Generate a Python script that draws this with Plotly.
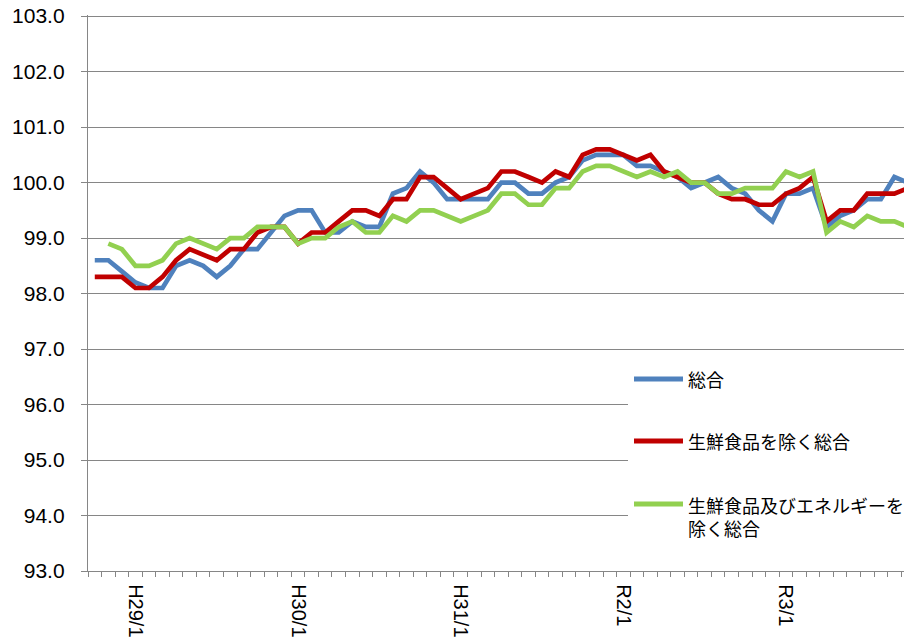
import plotly.graph_objects as go

# Months from 2016-10 (H28/10) to 2021-10 (R3/10)
months = []
for yy in range(2016, 2022):
    for mm in range(1, 13):
        if (yy == 2016 and mm < 10) or (yy == 2021 and mm > 10):
            continue
        months.append(f"{yy}-{mm:02d}")

tick_months = ["2017-01", "2018-01", "2019-01", "2020-01", "2021-01"]
tick_labels = ["H29/1", "H30/1", "H31/1", "R2/1", "R3/1"]

# 総合
sogo = [98.6, 98.6, 98.4, 98.2, 98.1, 98.1, 98.5, 98.6, 98.5, 98.3,
        98.5, 98.8, 98.8, 99.1, 99.4, 99.5, 99.5, 99.1, 99.1, 99.3,
        99.2, 99.2, 99.8, 99.9, 100.2, 100.0, 99.7, 99.7, 99.7, 99.7,
        100.0, 100.0, 99.8, 99.8, 100.0, 100.1, 100.4, 100.5, 100.5, 100.5,
        100.3, 100.3, 100.2, 100.1, 99.9, 100.0, 100.1, 99.9, 99.8, 99.5,
        99.3, 99.8, 99.8, 99.9, 99.2, 99.4, 99.5, 99.7, 99.7, 100.1, 100.0]

# 生鮮食品を除く総合
core = [98.3, 98.3, 98.3, 98.1, 98.1, 98.3, 98.6, 98.8, 98.7, 98.6,
        98.8, 98.8, 99.1, 99.2, 99.2, 98.9, 99.1, 99.1, 99.3, 99.5,
        99.5, 99.4, 99.7, 99.7, 100.1, 100.1, 99.9, 99.7, 99.8, 99.9,
        100.2, 100.2, 100.1, 100.0, 100.2, 100.1, 100.5, 100.6, 100.6, 100.5,
        100.4, 100.5, 100.2, 100.1, 100.0, 100.0, 99.8, 99.7, 99.7, 99.6,
        99.6, 99.8, 99.9, 100.1, 99.3, 99.5, 99.5, 99.8, 99.8, 99.8, 99.9]

# 生鮮食品及びエネルギーを除く総合
core_core = [None, 98.9, 98.8, 98.5, 98.5, 98.6, 98.9, 99.0, 98.9, 98.8,
             99.0, 99.0, 99.2, 99.2, 99.2, 98.9, 99.0, 99.0, 99.2, 99.3,
             99.1, 99.1, 99.4, 99.3, 99.5, 99.5, 99.4, 99.3, 99.4, 99.5,
             99.8, 99.8, 99.6, 99.6, 99.9, 99.9, 100.2, 100.3, 100.3, 100.2,
             100.1, 100.2, 100.1, 100.2, 100.0, 100.0, 99.8, 99.8, 99.9, 99.9,
             99.9, 100.2, 100.1, 100.2, 99.1, 99.3, 99.2, 99.4, 99.3, 99.3, 99.2]

series_names = ["総合", "生鮮食品を除く総合", "生鮮食品及びエネルギーを<br>除く総合"]
series_colors = ["#4F81BD", "#C00000", "#92D050"]
series_values = [sogo, core, core_core]

xpos = list(range(len(months)))
tickvals = [months.index(m) for m in tick_months]

fig = go.Figure()
for name, color, vals in zip(series_names, series_colors, series_values):
    fig.add_trace(go.Scatter(x=xpos, y=vals, mode="lines", name=name,
                             line=dict(color=color, width=4.7),
                             connectgaps=False, showlegend=False))

GRID = "#868686"
OFF = 8  # page offset of the figure inside the browser window
W, H = 912 - OFF, 638 - OFF
L, R, T, B = 88 - OFF, 0, 16 - OFF - 1, 638 - 571
pw, ph = W - L - R, H - T - B
YMAX = 103.02


def px(xp):  # page pixel -> paper x
    return (xp - OFF - L) / pw


def py(yp):  # page pixel -> paper y
    return (H - B - (yp - OFF)) / ph


shapes = [dict(type="rect", xref="paper", yref="paper",
               x0=px(628), x1=1.0, y0=py(548), y1=py(360),
               fillcolor="white", line=dict(width=0), layer="above")]
annotations = []
text_y = [379, 441, 516]
line_y = [379, 441, 504]
for name, color, ly, ty in zip(series_names, series_colors, line_y, text_y):
    shapes.append(dict(type="line", xref="paper", yref="paper",
                       x0=px(634), x1=px(683), y0=py(ly), y1=py(ly),
                       line=dict(color=color, width=5), layer="above"))
    annotations.append(dict(xref="paper", yref="paper", x=px(686), y=py(ty),
                            xanchor="left", yanchor="middle", align="left",
                            text=name, showarrow=False,
                            font=dict(family="Noto Sans CJK JP", size=18, color="black")))

fig.update_layout(
    width=W, height=H,
    margin=dict(l=L, r=R, t=T, b=B, pad=0, autoexpand=False),
    paper_bgcolor="white", plot_bgcolor="white",
    shapes=shapes, annotations=annotations,
    xaxis=dict(range=[-0.5, 60.3], tickmode="array", tickvals=tickvals,
               ticktext=tick_labels, tickangle=90, ticks="", showgrid=False,
               showline=True, linecolor=GRID, linewidth=1.3, zeroline=False,
               ticklabelstandoff=8, automargin=False,
               tickfont=dict(family="Liberation Sans", size=20, color="black"),
               minor=dict(tickmode="linear", tick0=-0.5, dtick=1, ticks="outside",
                          ticklen=5, tickcolor=GRID, tickwidth=1, showgrid=False)),
    yaxis=dict(range=[93, YMAX], tickmode="array",
               tickvals=[93, 94, 95, 96, 97, 98, 99, 100, 101, 102, 103],
               tickformat=".1f", ticklabeloverflow="allow", automargin=False,
               showgrid=True, gridcolor=GRID, gridwidth=1.3,
               showline=True, linecolor=GRID, linewidth=1.3, zeroline=False,
               ticks="outside", ticklen=6, tickcolor=GRID,
               ticklabelstandoff=12,
               tickfont=dict(family="Liberation Sans", size=21, color="black")),
)

fig.write_html("out.html")
